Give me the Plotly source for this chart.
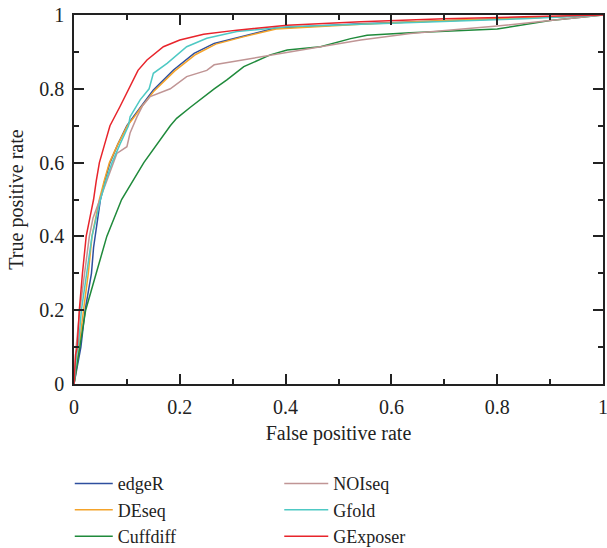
import plotly.graph_objects as go

# ---- data ----
edger_fpr = [0, 0.006, 0.013, 0.021, 0.033, 0.037, 0.040, 0.050, 0.058, 0.068, 0.083, 0.100, 0.112, 0.125, 0.150, 0.188, 0.227, 0.265, 0.314, 0.379, 0.542, 0.700, 0.850, 1.0]
edger_tpr = [0, 0.05, 0.10, 0.20, 0.30, 0.37, 0.40, 0.50, 0.55, 0.60, 0.65, 0.70, 0.724, 0.75, 0.797, 0.851, 0.896, 0.923, 0.941, 0.964, 0.976, 0.985, 0.992, 1.0]

deseq_fpr = [0, 0.005, 0.0095, 0.018, 0.027, 0.034, 0.048, 0.057, 0.067, 0.083, 0.101, 0.113, 0.127, 0.152, 0.190, 0.230, 0.268, 0.318, 0.382, 0.542, 0.700, 0.850, 1.0]
deseq_tpr = [0, 0.05, 0.10, 0.20, 0.30, 0.40, 0.50, 0.55, 0.60, 0.65, 0.70, 0.722, 0.75, 0.795, 0.848, 0.893, 0.921, 0.940, 0.962, 0.975, 0.985, 0.992, 1.0]

cuffdiff_fpr = [0, 0.011, 0.022, 0.042, 0.062, 0.090, 0.132, 0.182, 0.194, 0.220, 0.245, 0.265, 0.289, 0.321, 0.371, 0.403, 0.466, 0.523, 0.554, 0.636, 0.800, 0.900, 1.0]
cuffdiff_tpr = [0, 0.10, 0.20, 0.30, 0.40, 0.50, 0.60, 0.70, 0.72, 0.75, 0.779, 0.80, 0.824, 0.860, 0.892, 0.905, 0.914, 0.936, 0.945, 0.952, 0.962, 0.985, 1.0]

noiseq_fpr = [0, 0.004, 0.011, 0.020, 0.029, 0.036, 0.049, 0.062, 0.074, 0.081, 0.100, 0.106, 0.119, 0.130, 0.144, 0.182, 0.213, 0.251, 0.265, 0.340, 0.403, 0.542, 0.636, 0.800, 0.900, 1.0]
noiseq_tpr = [0, 0.10, 0.20, 0.30, 0.40, 0.45, 0.50, 0.55, 0.60, 0.625, 0.643, 0.68, 0.724, 0.755, 0.779, 0.80, 0.833, 0.85, 0.865, 0.883, 0.90, 0.932, 0.95, 0.97, 0.985, 1.0]

gfold_fpr = [0, 0.005, 0.008, 0.014, 0.024, 0.030, 0.034, 0.042, 0.050, 0.060, 0.072, 0.087, 0.103, 0.106, 0.125, 0.142, 0.150, 0.176, 0.213, 0.251, 0.308, 0.403, 0.542, 0.700, 0.850, 1.0]
gfold_tpr = [0, 0.08, 0.10, 0.20, 0.30, 0.36, 0.40, 0.45, 0.50, 0.55, 0.60, 0.65, 0.70, 0.724, 0.77, 0.80, 0.842, 0.869, 0.914, 0.937, 0.955, 0.968, 0.975, 0.982, 0.990, 1.0]

gexposer_fpr = [0, 0.003, 0.006, 0.010, 0.016, 0.020, 0.023, 0.030, 0.037, 0.042, 0.048, 0.058, 0.068, 0.087, 0.104, 0.112, 0.121, 0.138, 0.169, 0.200, 0.245, 0.308, 0.403, 0.542, 0.700, 0.850, 1.0]
gexposer_tpr = [0, 0.08, 0.10, 0.20, 0.30, 0.37, 0.40, 0.45, 0.50, 0.55, 0.60, 0.65, 0.70, 0.752, 0.80, 0.824, 0.85, 0.878, 0.914, 0.932, 0.948, 0.959, 0.972, 0.982, 0.990, 0.995, 1.0]

tick_vals = [0, 0.2, 0.4, 0.6, 0.8, 1]
tick_text = ["0", "0.2", "0.4", "0.6", "0.8", "1"]

FONT = "Liberation Serif"
FS = 20
LFS = 18
INK = "#222"

series = [
    ("edgeR", edger_fpr, edger_tpr, "#2e4f9e", "legend"),
    ("DEseq", deseq_fpr, deseq_tpr, "#f4a32a", "legend"),
    ("Cuffdiff", cuffdiff_fpr, cuffdiff_tpr, "#1f8a3b", "legend"),
    ("NOIseq", noiseq_fpr, noiseq_tpr, "#c09595", "legend2"),
    ("Gfold", gfold_fpr, gfold_tpr, "#4ec9c4", "legend2"),
    ("GExposer", gexposer_fpr, gexposer_tpr, "#e8242b", "legend2"),
]

fig = go.Figure()
for name, xs, ys, col, lg in series:
    fig.add_trace(go.Scatter(x=xs, y=ys, mode="lines", name=name,
                             line=dict(color=col, width=1.5), legend=lg))

# invisible trace to activate the mirror (top/right) tick axes
fig.add_trace(go.Scatter(x=[0, 1], y=[0, 1], xaxis="x2", yaxis="y2", mode="lines",
                         line=dict(width=0, color="rgba(0,0,0,0)"), showlegend=False, hoverinfo="skip"))

def axis_style(**extra):
    d = dict(
        range=[0, 1], tickvals=tick_vals, ticktext=tick_text,
        ticks="inside", ticklen=10, tickwidth=1.5, tickcolor=INK,
        showline=True, linecolor=INK, linewidth=1.5,
        showgrid=False, zeroline=False, automargin=False,
        tickfont=dict(family=FONT, size=FS, color=INK),
        minor=dict(ticks="inside", ticklen=5, dtick=0.1, tick0=0, tickcolor=INK, tickwidth=1.5, showgrid=False),
    )
    d.update(extra)
    return d

# figure is a little taller than the window (bottom strip is outside the view) so the
# legends below the plot never force the plot area to shrink
fig.update_layout(
    width=607, height=560,
    margin=dict(l=74, r=4, t=15, b=176),
    paper_bgcolor="white", plot_bgcolor="white",
    font=dict(family=FONT, size=FS, color=INK),
    xaxis=axis_style(ticklabelstandoff=4, ticklabeloverflow="allow", mirror="ticks",
                     title=dict(text="False positive rate", font=dict(family=FONT, size=FS), standoff=9)),
    yaxis=axis_style(ticklabelstandoff=4, ticklabeloverflow="allow", mirror="ticks",
                     title=dict(text="True positive rate", font=dict(family=FONT, size=FS), standoff=10)),
    xaxis2=axis_style(overlaying="x", side="top", showticklabels=False),
    yaxis2=axis_style(overlaying="y", side="right", showticklabels=False),
    legend=dict(x=-0.008, y=-0.22, xanchor="left", yanchor="top",
                orientation="v", itemwidth=38,
                font=dict(family=FONT, size=LFS), bgcolor="rgba(0,0,0,0)", tracegroupgap=0),
    legend2=dict(x=0.388, y=-0.22, xanchor="left", yanchor="top",
                 orientation="v", itemwidth=44,
                 font=dict(family=FONT, size=LFS), bgcolor="rgba(0,0,0,0)", tracegroupgap=0),
    showlegend=True,
)

fig.write_html("out.html", config={"displayModeBar": False},
               post_script="document.body.style.margin='0';document.body.style.overflow='hidden';")
